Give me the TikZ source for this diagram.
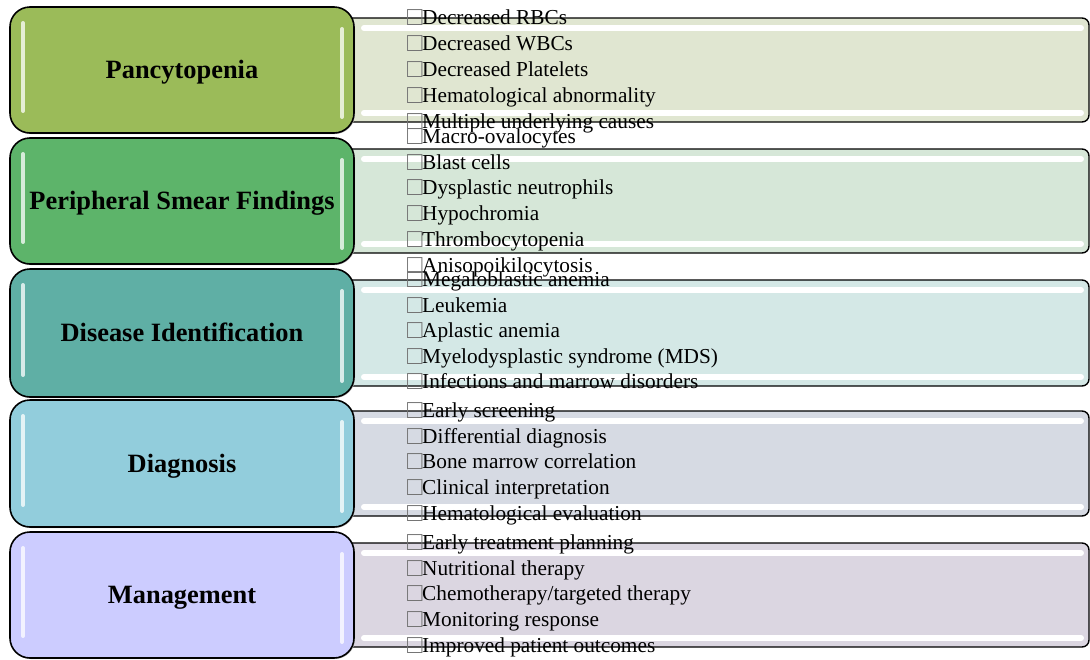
\documentclass[tikz,border=0pt]{standalone}
\usepackage{fontspec}
\setmainfont{Liberation Serif}
\definecolor{lA}{HTML}{9BBB59}
\definecolor{lB}{HTML}{5DB46A}
\definecolor{lC}{HTML}{5FAFA5}
\definecolor{lD}{HTML}{92CDDC}
\definecolor{lE}{HTML}{CCCCFF}
\definecolor{rA}{HTML}{E0E6D1}
\definecolor{rB}{HTML}{D6E7D8}
\definecolor{rC}{HTML}{D4E8E6}
\definecolor{rD}{HTML}{D6DAE3}
\definecolor{rE}{HTML}{DBD6E1}
\newcommand\nobox{\makebox[15pt][l]{\raisebox{-1pt}{\scalebox{1.2}[1.25]{\textcolor{black!55}{□}}}}}
\begin{document}
\begin{tikzpicture}[x=1pt,y=-1pt,
  leftbox/.style={draw=black, line width=1.6pt, rounded corners=20pt},
  rightbox/.style={draw=black, line width=1.4pt, rounded corners=7pt},
  title/.style={font=\fontsize{26.4}{30}\selectfont\bfseries, anchor=base, inner sep=0pt},
  item/.style={font=\fontsize{21.3}{25.7}\selectfont, anchor=base west, inner sep=0pt},
  glint/.style={line width=4pt, line cap=round},
  hglint/.style={white, line width=6pt, line cap=round}]
\useasboundingbox (0,0) rectangle (1090,659);
% right panels
\foreach \t/\b/\rc in {7/133/rA,138/264/rB,269/397/rC,400/527/rD,532/658/rE}{
  \fill[\rc, rounded corners=7pt] (340,\t+11) rectangle (1089,\b-11);
  \draw[hglint] (364,\t+21) -- (1081,\t+21);
  \draw[hglint] (364,\b-20) -- (1081,\b-20);
  \draw[rightbox] (340,\t+11) rectangle (1089,\b-11);
}
% left boxes
\foreach \t/\b/\lc/\name [count=\i] in {7/133/lA/Pancytopenia,138/264/lB/Peripheral Smear Findings,269/397/lC/Disease Identification,400/527/lD/Diagnosis,532/658/lE/Management}{
  \fill[black!25, rounded corners=20pt] (11,\t+2) rectangle (355,\b+1);
  \fill[\lc, rounded corners=20pt] (10,\t) rectangle (354,\b);
  \draw[white!75!\lc, glint] (23,\t+16) -- (23,\b-22);
  \draw[white!75!\lc, glint] (342,\t+22) -- (342,\b-16);
  \draw[leftbox] (10,\t) rectangle (354,\b);
  \node[title] (L\i) at (182,{(\t+\b)/2+8.5}) {\name};
}
% item lists
\foreach \txt [count=\k from 0] in {Decreased RBCs,Decreased WBCs,Decreased Platelets,Hematological abnormality,Multiple underlying causes}
  \node[item] (a\k) at (407,{24.5+25.9*\k}) {\nobox\txt};
\foreach \txt [count=\k from 0] in {Macro-ovalocytes,Blast cells,Dysplastic neutrophils,Hypochromia,Thrombocytopenia,Anisopoikilocytosis}
  \node[item] (b\k) at (407,{143.5+25.7*\k}) {\nobox\txt};
\foreach \txt [count=\k from 0] in {Megaloblastic anemia,Leukemia,Aplastic anemia,Myelodysplastic syndrome (MDS),Infections and marrow disorders}
  \node[item] (c\k) at (407,{286.5+25.5*\k}) {\nobox\txt};
\foreach \txt [count=\k from 0] in {Early screening,Differential diagnosis,Bone marrow correlation,Clinical interpretation,Hematological evaluation}
  \node[item] (d\k) at (407,{417.5+25.7*\k}) {\nobox\txt};
\foreach \txt [count=\k from 0] in {Early treatment planning,Nutritional therapy,Chemotherapy/targeted therapy,Monitoring response,Improved patient outcomes}
  \node[item] (e\k) at (407,{549.5+25.7*\k}) {\nobox\txt};
\end{tikzpicture}
\end{document}
